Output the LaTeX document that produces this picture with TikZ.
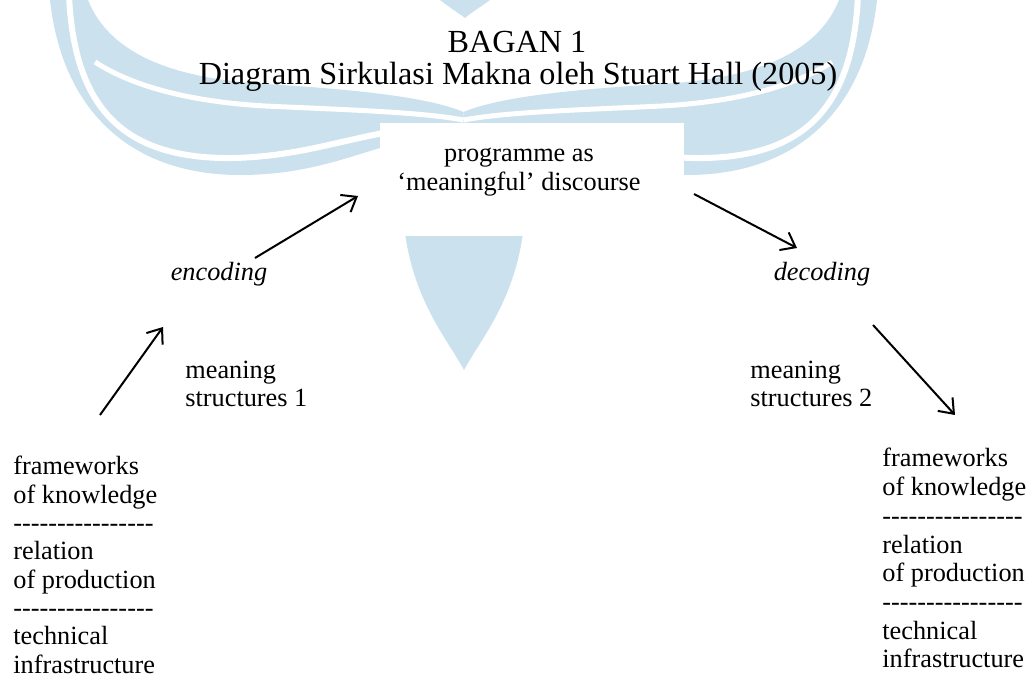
\documentclass[tikz,border=0pt]{standalone}
\usepackage{fontspec}
\setmainfont{Liberation Serif}[Ligatures=TeXOff]
\usetikzlibrary{arrows.meta}
\definecolor{logoblue}{RGB}{204,225,238}
\newcommand{\bodysize}{\fontsize{13.15}{15.15}\selectfont}
\newcommand{\titlesize}{\fontsize{16.1}{17.5}\selectfont}
\newcommand{\dashrow}{----------------}
\tikzstyle{heading} = [font=\titlesize, inner sep=0pt, anchor=base]
\tikzstyle{mid} = [font=\bodysize, inner sep=0pt, anchor=base]
\tikzstyle{txt} = [font=\bodysize, inner sep=0pt, anchor=base west]
\tikzstyle{phase} = [font=\bodysize\itshape, inner sep=0pt, anchor=base]
\tikzstyle{flow} = [draw, line width=1pt, -{Straight Barb[length=6.5pt,width=10pt]}]

\begin{document}
\begin{tikzpicture}[x=0.5pt, y=-0.5pt]
\useasboundingbox (0,0) rectangle (1034,688);

% faded logo behind the diagram, left half and its mirror
\foreach \side in {1,-1}{
  \begin{scope}[xshift={231.75pt*(1-\side)}, xscale=\side]
    \fill[logoblue] (50,0) -- (88,0) .. controls (108,50) and (165,78) .. (265,84)
      .. controls (365,90) and (430,98) .. (463.5,112) -- (463.5,160) -- (380,148)
      .. controls (340,160) and (300,175) .. (240,175)
      .. controls (130,175) and (62,110) .. (50,0) -- cycle;
    \draw[white, line width=3pt] (69,-5) .. controls (74,110) and (125,160) .. (235,158)
      .. controls (300,156) and (340,140) .. (400,130);
    \draw[white, line width=2.5pt] (95,62) .. controls (135,88) and (195,102) .. (265,106)
      .. controls (350,110) and (420,112) .. (463.5,120);
  \end{scope}
}
\fill[logoblue] (440,0) .. controls (450,8) and (460,14) .. (465,18)
  .. controls (472,12) and (482,6) .. (490,0) -- cycle;
\fill[logoblue] (404,225) .. controls (412,300) and (448,340) .. (464,370)
  .. controls (480,340) and (516,300) .. (524,225) -- cycle;
\fill[white] (380,123) rectangle (684,236);

% title
\node[heading] (bagan) at (517,53) {BAGAN 1};
\node[heading] (judul) at (518,85) {Diagram Sirkulasi Makna oleh Stuart Hall (2005)};

% programme
\node[mid] (prog1) at (519,162) {programme as};
\node[mid] (prog2) at (519,191) {‘meaningful’ discourse};

\node[phase] (enc) at (219,281) {encoding};
\node[phase] (dec) at (822,281) {decoding};

\node[txt] (ms1a) at (185,379) {meaning};
\node[txt] (ms1b) at (185,407) {structures 1};
\node[txt] (ms2a) at (750,379) {meaning};
\node[txt] (ms2b) at (750,407) {structures 2};

% frameworks on both sides
\foreach \i/\txt in {1/frameworks, 2/of knowledge, 3/\dashrow, 4/relation,
    5/of production, 6/\dashrow, 7/technical, 8/infrastructure}{
  \node[txt] (L\i) at (13,{475+28.3*(\i-1)}) {\txt};
  \node[txt] (R\i) at (882,{467+28.7*(\i-1)}) {\txt};
}

% arrows
\coordinate (encOut) at (255,258);
\coordinate (progIn) at (358,196);
\coordinate (progOut) at (694,194);
\coordinate (decIn) at (797,248);
\coordinate (msOut) at (100,415);
\coordinate (encIn) at (163,327);
\coordinate (decOut) at (873,325);
\coordinate (fwIn) at (955,415);
\path[flow] (encOut) -- (progIn);
\path[flow] (progOut) -- (decIn);
\path[flow] (msOut) -- (encIn);
\path[flow] (decOut) -- (fwIn);

\end{tikzpicture}
\end{document}
